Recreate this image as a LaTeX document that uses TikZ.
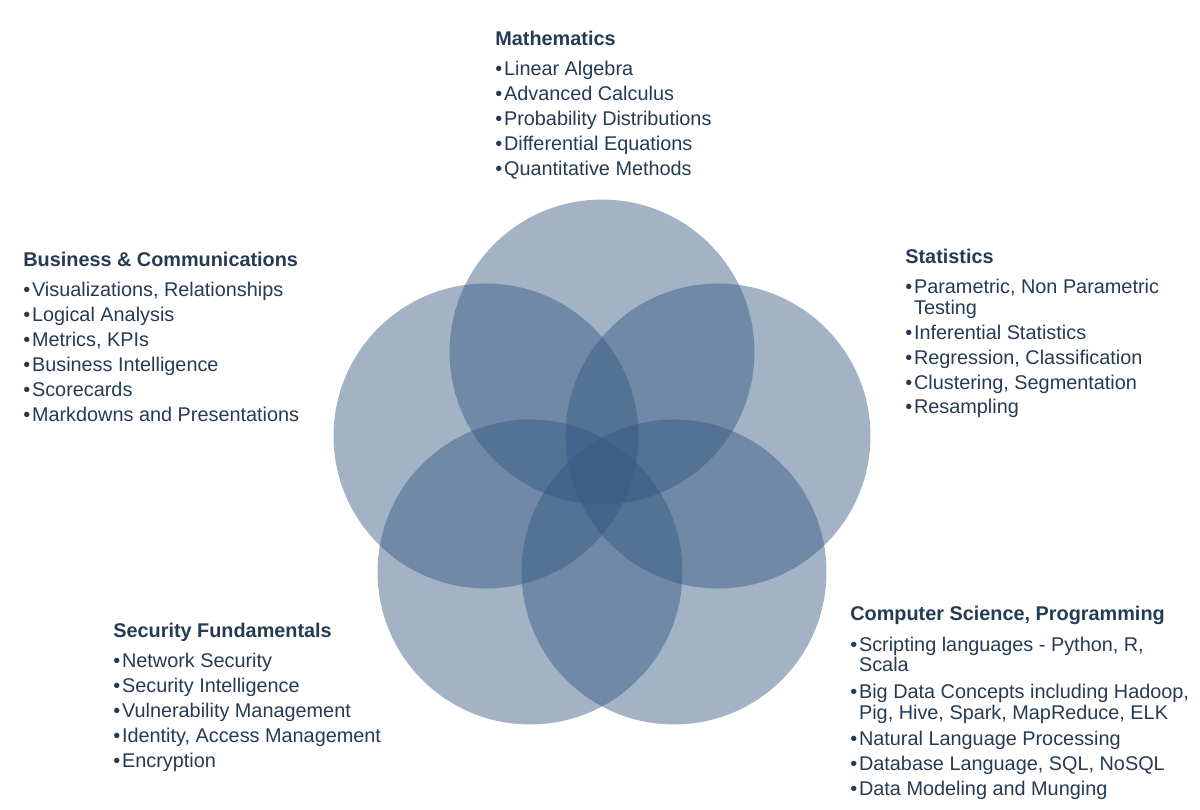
\documentclass[tikz,border=0pt]{standalone}
\usepackage{fontspec}
\setmainfont{Liberation Sans}
\usetikzlibrary{positioning}

\definecolor{areablue}{HTML}{32567F}
\definecolor{textnavy}{HTML}{243B53}
\newcommand{\bul}{\textbullet\hspace{1pt}}
\newcommand{\cont}{\phantom{\bul}}

\begin{document}
\begin{tikzpicture}[
    x=0.02cm, y=-0.02cm,
    area/.style={circle, fill=areablue, fill opacity=0.45, minimum size=6.1cm, inner sep=0pt},
    topic/.style={anchor=north west, align=left, inner sep=0pt, text=textnavy, font=\fontsize{11.3}{14.2}\selectfont}
  ]
    \useasboundingbox (0,0) rectangle (1200,810);

    % five overlapping areas
    \node[area] (mathc) at (602,352) {};
    \node[area] (statc) at (718,436) {};
    \node[area] (compc) at (674,572) {};
    \node[area] (secc) at (530,572) {};
    \node[area] (busc) at (486,436) {};

    % topic lists
    \node[topic] (math) at (495,31) {\textbf{Mathematics}\\[2.8pt]
      \bul Linear Algebra\\
      \bul Advanced Calculus\\
      \bul Probability Distributions\\
      \bul Differential Equations\\
      \bul Quantitative Methods};
    \node[topic] (stat) at (905,249) {\textbf{Statistics}\\[2.8pt]
      \bul Parametric, Non Parametric\\[-2.5pt]
      \cont Testing\\
      \bul Inferential Statistics\\
      \bul Regression, Classification\\
      \bul Clustering, Segmentation\\
      \bul Resampling};
    \node[topic] (bus) at (23,252) {\textbf{Business \& Communications}\\[2.8pt]
      \bul Visualizations, Relationships\\
      \bul Logical Analysis\\
      \bul Metrics, KPIs\\
      \bul Business Intelligence\\
      \bul Scorecards\\
      \bul Markdowns and Presentations};
    \node[topic] (sec) at (113,623) {\textbf{Security Fundamentals}\\[2.8pt]
      \bul Network Security\\
      \bul Security Intelligence\\
      \bul Vulnerability Management\\
      \bul Identity, Access Management\\
      \bul Encryption};
    \node[topic] (comp) at (850,606) {\textbf{Computer Science, Programming}\\[3.2pt]
      \bul Scripting languages - Python, R,\\[-2.5pt]
      \cont Scala\\[1pt]
      \bul Big Data Concepts including Hadoop,\\[-2.5pt]
      \cont Pig, Hive, Spark, MapReduce, ELK\\[1pt]
      \bul Natural Language Processing\\
      \bul Database Language, SQL, NoSQL\\
      \bul Data Modeling and Munging};
  \end{tikzpicture}
\end{document}
